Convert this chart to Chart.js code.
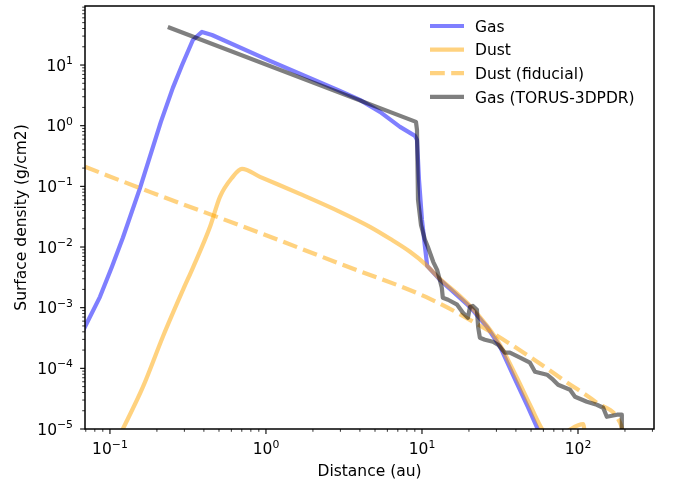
<!DOCTYPE html>
<html>
<head>
<meta charset="utf-8">
<script src="https://cdn.jsdelivr.net/npm/chart.js@4.4.1/dist/chart.umd.min.js"></script>
<style>
  html, body { margin: 0; padding: 0; background: #fff; }
  canvas { display: block; }
</style>
</head>
<body>
<canvas id="sigmaChart" width="673" height="480"></canvas>
<script>
// radius (au) / surface density (g/cm2)
const gasR = [0.065, 0.0692, 0.0863, 0.103, 0.121, 0.156, 0.212, 0.253, 0.290, 0.340, 0.389, 0.451,
    1.061, 2.98, 4.0, 5.38, 7.23, 9.02, 9.29, 9.57, 10.0, 10.45, 10.8, 13.0, 20.3, 26.1, 31.6, 39.5, 47.8, 57.1];
const gasSigma = [3.5e-4, 4.84e-4, 1.51e-3, 4.72e-3, 0.0142, 0.0944, 1.156, 4.20, 10.0, 25.9, 35.1, 31.3,
    11.7, 3.74, 2.66, 1.69, 0.955, 0.68, 0.583, 0.128, 0.028, 0.0101, 4.9e-3, 2.9e-3, 1.03e-3, 4.8e-4, 2.3e-4, 6.6e-5, 2.3e-5, 8.2e-6];

const dustR = [0.112, 0.121, 0.163, 0.219, 0.294, 0.340, 0.438, 0.507, 0.605, 0.702, 0.915, 1.65, 2.98, 4.64, 6.24, 8.38,
    10.45, 13.0, 16.3, 20.3, 26.1, 31.6, 40.6, 49.2, 61.4, 72, 88.9, 108, 112];
const dustSigma = [6.7e-6, 1.0e-5, 4.98e-5, 3.38e-4, 1.97e-3, 4.54e-3, 0.0215, 0.0672, 0.138, 0.194, 0.1436, 0.0751, 0.0380, 0.0215, 0.01365, 8.34e-3,
    5.28e-3, 2.99e-3, 1.83e-3, 1.07e-3, 5.03e-4, 2.45e-4, 7.0e-5, 2.51e-5, 8.4e-6, 6.5e-6, 9.8e-6, 1.2e-5, 6e-6];

const fidR = [0.0692, 0.180, 0.915, 2.98, 11.25, 26.1, 49.2, 80.1, 132, 186, 200];
const fidSigma = [0.21, 0.0812, 0.0171, 5.29e-3, 1.40e-3, 4.33e-4, 1.55e-4, 6.49e-5, 2.71e-5, 1.27e-5, 6.7e-6];

const torusR = [0.235, 9.15, 9.29, 9.43, 9.85, 10.45, 10.9, 11.8, 12.5, 13.0, 13.4, 13.6, 14.7, 16.8, 18.3, 19.7, 20.3,
    21.2, 22.5, 22.9, 23.5, 25.3, 28.5, 30.7, 34.0, 36.6, 42.5, 49.2, 53.0, 63.3, 69.2, 74.5, 88.9, 95.7, 114, 132,
    145, 153, 178, 191, 191];
const torusSigma = [42.4, 1.156, 0.853, 0.060, 0.0232, 0.0132, 0.0101, 5.7e-3, 4.21e-3, 2.88e-3, 2.13e-3, 1.46e-3, 1.35e-3, 1.12e-3, 8.24e-4, 6.82e-4, 1.03e-3,
    1.07e-3, 9.23e-4, 4.84e-4, 3.19e-4, 2.96e-4, 2.74e-4, 2.45e-4, 1.81e-4, 1.81e-4, 1.50e-4, 1.24e-4, 8.79e-5, 7.85e-5, 6.49e-5, 5.37e-5, 4.44e-5, 3.40e-5, 2.82e-5, 2.51e-5,
    2.24e-5, 1.59e-5, 1.72e-5, 1.72e-5, 9e-6];

const xTickPowers = [-1, 0, 1, 2];
const yTickPowers = [-5, -4, -3, -2, -1, 0, 1];

const FONT = '"DejaVu Sans", sans-serif';
const FS = 15.5;
const FS_SUP = 10.85;
const ctx = document.getElementById("sigmaChart").getContext("2d");

function pts(r, s) {
    return r.map((v, i) => ({ x: v, y: s[i] }));
}

function drawPow(c, p, x, y, anchor, raise) {
    const base = '10';
    const sup = (p < 0 ? '\u2212' : '') + Math.abs(p);
    c.font = FS + 'px ' + FONT;
    const wb = c.measureText(base).width;
    c.font = FS_SUP + 'px ' + FONT;
    const ws = c.measureText(sup).width;
    const x0 = anchor === 'center' ? x - (wb + ws) / 2 : x - (wb + ws);
    c.textAlign = 'left';
    c.textBaseline = 'alphabetic';
    c.font = FS + 'px ' + FONT;
    c.fillText(base, x0, y);
    c.font = FS_SUP + 'px ' + FONT;
    c.fillText(sup, x0 + wb, y - raise);
}

// frame, log ticks, labels and legend drawn matplotlib-style
const axesPlugin = {
    id: 'axesPlugin',
    afterDraw(chart) {
        const c = chart.ctx;
        const a = chart.chartArea;
        const xs = chart.scales.x, ys = chart.scales.y;
        c.save();
        c.strokeStyle = '#000';
        c.fillStyle = '#000';

        // minor + major ticks
        const ticksFor = (scale) => {
            const out = [];
            for (let d = Math.floor(Math.log10(scale.min)); d <= Math.ceil(Math.log10(scale.max)); d++) {
                for (let m = 1; m <= 9; m++) {
                    const v = m * Math.pow(10, d);
                    if (v >= scale.min && v <= scale.max) out.push({ v, major: m === 1 });
                }
            }
            return out;
        };
        ticksFor(xs).forEach(t => {
            const px = xs.getPixelForValue(t.v);
            c.lineWidth = t.major ? 1.1 : 0.8;
            c.beginPath();
            c.moveTo(px, a.bottom);
            c.lineTo(px, a.bottom + (t.major ? 4.9 : 2.8));
            c.stroke();
        });
        ticksFor(ys).forEach(t => {
            const py = ys.getPixelForValue(t.v);
            c.lineWidth = t.major ? 1.1 : 0.8;
            c.beginPath();
            c.moveTo(a.left, py);
            c.lineTo(a.left - (t.major ? 4.9 : 2.8), py);
            c.stroke();
        });

        c.lineWidth = 1.5;
        c.strokeRect(a.left, a.top, a.right - a.left, a.bottom - a.top);

        xTickPowers.forEach(p => drawPow(c, p, xs.getPixelForValue(Math.pow(10, p)), 453.5, 'center', 5.5));
        yTickPowers.forEach(p => drawPow(c, p, 73, ys.getPixelForValue(Math.pow(10, p)) + 5.5, 'right', 6.5));

        // axis titles
        c.font = FS + 'px ' + FONT;
        c.textAlign = 'center';
        c.textBaseline = 'alphabetic';
        c.fillText('Distance (au)', (a.left + a.right) / 2, 476);
        c.save();
        c.translate(26, (a.top + a.bottom) / 2);
        c.rotate(-Math.PI / 2);
        c.fillText('Surface density (g/cm2)', 0, 0);
        c.restore();

        // legend
        chart.data.datasets.forEach((ds, i) => {
            const ly = 26 + i * 23.6;
            c.save();
            c.strokeStyle = ds.borderColor;
            c.lineWidth = ds.borderWidth;
            c.setLineDash(ds.borderDash || []);
            c.beginPath();
            c.moveTo(430, ly);
            c.lineTo(464, ly);
            c.stroke();
            c.restore();
            c.font = FS + 'px ' + FONT;
            c.textAlign = 'left';
            c.fillText(ds.label, 475, ly + 5.7);
        });
        c.restore();
    }
};

const common = { pointRadius: 0, borderWidth: 4.2, borderJoinStyle: 'round', clip: 0, fill: false };

let sigmaChart = new Chart(ctx, {
    type: 'line',
    data: {
        datasets: [
            { ...common, label: 'Gas', data: pts(gasR, gasSigma), borderColor: 'rgba(0, 0, 255, 0.5)', tension: 0, order: 3 },
            { ...common, label: 'Dust', data: pts(dustR, dustSigma), borderColor: 'rgba(255, 165, 0, 0.5)', cubicInterpolationMode: 'monotone', order: 2 },
            { ...common, label: 'Dust (fiducial)', data: pts(fidR, fidSigma), borderColor: 'rgba(255, 165, 0, 0.5)', borderDash: [14.8, 6.4], cubicInterpolationMode: 'monotone', order: 1 },
            { ...common, label: 'Gas (TORUS-3DPDR)', data: pts(torusR, torusSigma), borderColor: 'rgba(0, 0, 0, 0.5)', tension: 0, order: 0 }
        ]
    },
    options: {
        responsive: false,
        animation: false,
        layout: { padding: { top: 6, right: 19, left: 0, bottom: 0 } },
        plugins: { legend: { display: false }, tooltip: { enabled: false } },
        scales: {
            x: {
                type: 'logarithmic', min: 0.0692, max: 307,
                ticks: { display: false }, grid: { display: false }, border: { display: false },
                afterFit: (s) => { s.height = 51; }
            },
            y: {
                type: 'logarithmic', min: 1e-5, max: 94,
                ticks: { display: false }, grid: { display: false }, border: { display: false },
                afterFit: (s) => { s.width = 85; }
            }
        }
    },
    plugins: [axesPlugin]
});
</script>
</body>
</html>
